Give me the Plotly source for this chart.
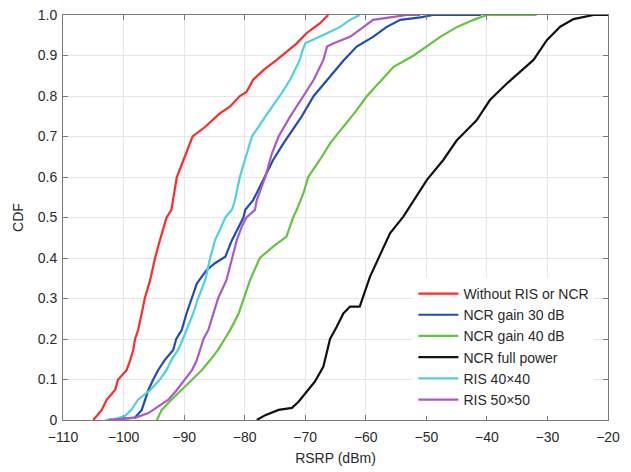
import plotly.graph_objects as go

# Empirical CDF of RSRP for each deployment (RSRP in dBm, CDF level)
red_rsrp = [-105.0, -104.7, -103.6, -102.8, -101.4, -100.9, -99.5, -98.9, -98.4, -98.1, -97.6,
            -97.0, -96.5, -95.6, -94.8, -94.0, -92.9, -92.1, -91.8, -91.2, -90.1, -88.6, -86.5,
            -84.1, -82.4, -80.8, -79.7, -78.6, -76.9, -74.7, -71.4, -69.8, -67.6, -66.2]
red_cdf = [0.0, 0.005, 0.025, 0.05, 0.074, 0.10, 0.123, 0.148, 0.173, 0.20, 0.222,
           0.263, 0.30, 0.346, 0.40, 0.444, 0.50, 0.519, 0.543, 0.60, 0.642, 0.70, 0.724,
           0.757, 0.774, 0.80, 0.81, 0.84, 0.864, 0.889, 0.93, 0.955, 0.979, 1.0]

blue_rsrp = [-102.6, -98.1, -97.0, -96.5, -95.9, -95.1, -94.3, -93.2, -91.8, -91.3, -90.4,
             -89.6, -88.8, -87.9, -86.3, -84.9, -83.2, -82.1, -80.2, -79.9, -78.6, -77.5,
             -75.3, -73.6, -72.8, -70.6, -68.6, -66.3, -63.6, -61.5, -58.8, -56.6, -54.3,
             -51.0, -48.9, -41.0]
blue_cdf = [0.0, 0.006, 0.025, 0.05, 0.074, 0.10, 0.123, 0.148, 0.173, 0.20, 0.222,
            0.263, 0.30, 0.337, 0.37, 0.387, 0.403, 0.444, 0.50, 0.519, 0.543, 0.576,
            0.642, 0.683, 0.70, 0.749, 0.80, 0.84, 0.889, 0.922, 0.946, 0.97, 0.988,
            0.994, 1.0, 1.0]

green_rsrp = [-94.5, -93.7, -92.1, -90.4, -88.7, -87.1, -85.7, -84.4, -83.3, -82.4, -81.0,
              -80.2, -79.1, -77.5, -75.3, -73.1, -72.0, -71.4, -70.3, -69.5, -67.6, -65.9,
              -63.7, -61.5, -59.8, -57.4, -55.4, -52.1, -49.9, -47.7, -45.0, -42.2, -40.0,
              -31.8]
green_cdf = [0.0, 0.025, 0.05, 0.074, 0.10, 0.123, 0.148, 0.173, 0.20, 0.222, 0.263,
             0.30, 0.346, 0.40, 0.428, 0.453, 0.50, 0.519, 0.56, 0.60, 0.642, 0.683,
             0.724, 0.765, 0.80, 0.84, 0.872, 0.90, 0.922, 0.946, 0.97, 0.988, 1.0,
             1.0]

black_rsrp = [-78.0, -76.6, -74.4, -72.2, -71.1, -69.5, -68.4, -67.0, -65.9, -64.8, -63.7,
              -62.6, -61.0, -59.3, -57.6, -56.0, -53.8, -52.1, -49.9, -47.2, -45.0, -41.7,
              -39.5, -36.7, -32.3, -30.1, -27.9, -25.7, -22.4, -20.0]
black_cdf = [0.0, 0.012, 0.025, 0.03, 0.045, 0.074, 0.095, 0.132, 0.20, 0.23, 0.263,
             0.28, 0.28, 0.354, 0.41, 0.461, 0.502, 0.543, 0.593, 0.642, 0.69, 0.74,
             0.79, 0.831, 0.889, 0.938, 0.971, 0.99, 1.0, 1.0]

cyan_rsrp = [-103.0, -101.0, -99.8, -98.7, -97.6, -95.6, -94.0, -92.9, -92.1, -91.0, -90.2,
             -89.6, -88.5, -87.7, -86.5, -85.7, -84.9, -84.1, -83.2, -82.1, -81.6, -80.8,
             -79.7, -78.8, -76.6, -74.2, -72.5, -71.4, -70.9, -70.5, -70.0, -66.4, -64.3,
             -62.6, -61.0]
cyan_cdf = [0.0, 0.004, 0.01, 0.025, 0.05, 0.074, 0.10, 0.123, 0.148, 0.173, 0.20,
            0.222, 0.263, 0.30, 0.346, 0.40, 0.444, 0.469, 0.50, 0.519, 0.543, 0.60,
            0.658, 0.70, 0.749, 0.80, 0.84, 0.872, 0.889, 0.91, 0.93, 0.955, 0.97,
            0.988, 1.0]

magenta_rsrp = [-102.5, -98.0, -95.9, -95.1, -92.6, -91.2, -89.9, -88.7, -87.9, -87.4, -86.8,
                -86.0, -85.2, -84.4, -83.0, -82.1, -81.3, -80.5, -79.7, -78.3, -78.0, -76.6,
                -75.5, -74.4, -72.5, -70.3, -68.6, -67.0, -66.4, -65.3, -62.6, -60.4, -58.8,
                -56.0, -53.2, -51.0]
magenta_cdf = [0.0, 0.006, 0.017, 0.025, 0.05, 0.074, 0.10, 0.123, 0.148, 0.173, 0.20,
               0.222, 0.263, 0.30, 0.346, 0.40, 0.444, 0.477, 0.50, 0.519, 0.543, 0.60,
               0.658, 0.70, 0.749, 0.80, 0.84, 0.889, 0.922, 0.93, 0.946, 0.97, 0.988,
               0.994, 1.0, 1.0]

series_names = ["Without RIS or NCR", "NCR gain 30 dB", "NCR gain 40 dB",
                "NCR full power", "RIS 40\u00d740", "RIS 50\u00d750"]
series_colors = ["#ff2a2a", "#1f4cb8", "#62c43f", "#111111", "#4fd0dc", "#a95ac4"]
series_x = [red_rsrp, blue_rsrp, green_rsrp, black_rsrp, cyan_rsrp, magenta_rsrp]
series_y = [red_cdf, blue_cdf, green_cdf, black_cdf, cyan_cdf, magenta_cdf]

x_ticks = [-110, -100, -90, -80, -70, -60, -50, -40, -30, -20]
x_tick_text = ["\u2212110", "\u2212100", "\u221290", "\u221280", "\u221270",
               "\u221260", "\u221250", "\u221240", "\u221230", "\u221220"]
y_ticks = [0, 0.1, 0.2, 0.3, 0.4, 0.5, 0.6, 0.7, 0.8, 0.9, 1.0]
y_tick_text = ["0", "0.1", "0.2", "0.3", "0.4", "0.5", "0.6", "0.7", "0.8", "0.9", "1.0"]

FONT = "Liberation Sans, Arial, sans-serif"

fig = go.Figure()
for name, color, xs, ys in zip(series_names, series_colors, series_x, series_y):
    fig.add_trace(go.Scatter(
        x=xs, y=ys, mode="lines", name=name,
        line=dict(color=color, width=2.2),
    ))

axis_style = dict(
    showline=True, linecolor="#7a7a7a", linewidth=1, mirror="ticks",
    ticks="inside", ticklen=5, tickcolor="#7a7a7a",
    showgrid=True, gridcolor="#e6e6e6", gridwidth=1,
    zeroline=False, automargin=False,
    tickfont=dict(family=FONT, size=14, color="#2a2a2a"),
    title_font=dict(family=FONT, size=14, color="#2a2a2a"),
)

fig.update_xaxes(range=[-110, -20], tickvals=x_ticks, ticktext=x_tick_text,
                 ticklabelstandoff=4,
                 title_text="RSRP (dBm)", title_standoff=9, **axis_style)
fig.update_yaxes(range=[0, 1], tickvals=y_ticks, ticktext=y_tick_text,
                 ticklabelstandoff=2,
                 title_text="CDF", title_standoff=10, **axis_style)

fig.update_layout(
    width=631, height=472,
    margin=dict(l=63, r=23, t=15, b=52),
    paper_bgcolor="white", plot_bgcolor="white",
    showlegend=True,
    legend=dict(
        x=0.975, y=0.01, xanchor="right", yanchor="bottom",
        bgcolor="white", borderwidth=0,
        font=dict(family=FONT, size=14, color="#2a2a2a"),
        tracegroupgap=0, itemwidth=40,
    ),
)

fig.write_html("out.html")
